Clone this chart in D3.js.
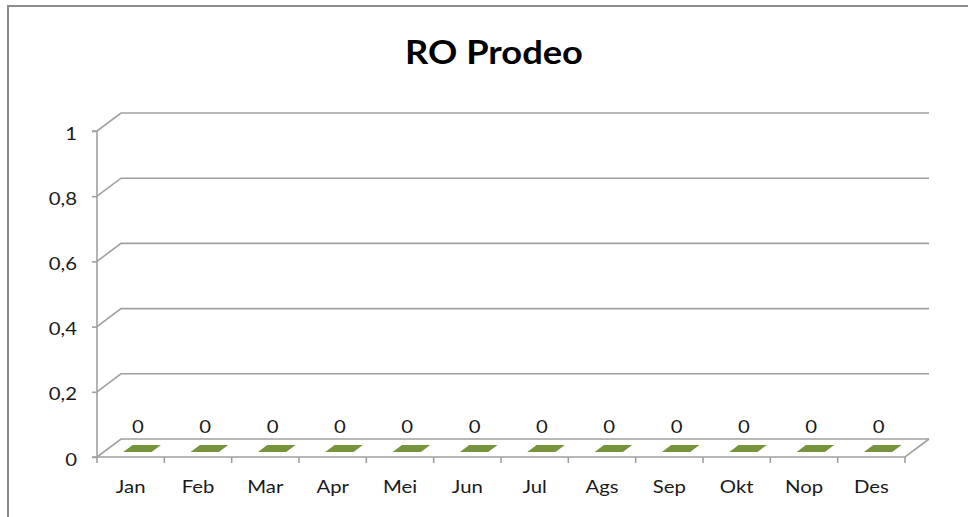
<!DOCTYPE html>
<html><head><meta charset="utf-8">
<script src="https://cdn.jsdelivr.net/npm/d3@7"></script>
<style>html,body{margin:0;padding:0;background:#fff;}svg{display:block;}</style>
</head><body>
<script>
const categories = ["Jan","Feb","Mar","Apr","Mei","Jun","Jul","Ags","Sep","Okt","Nop","Des"];
const values = [0,0,0,0,0,0,0,0,0,0,0,0];
const yTicks = [0,0.2,0.4,0.6,0.8,1];
const title = "RO Prodeo";

const W = 968, H = 517;
const font = "Lato, 'Open Sans', sans-serif";
const SX = 1.13; // horizontal text stretch seen in the reference
const svg = d3.select("body").append("svg").attr("width", W).attr("height", H);

function stretch(sel, s) {
  sel.each(function() {
    const t = d3.select(this);
    const tx = +t.attr("x") || 0, ty = +t.attr("y") || 0;
    t.attr("x", 0).attr("y", 0).attr("transform", `translate(${tx},${ty}) scale(${s},1)`);
  });
}

// frame
svg.append("path").attr("d", `M8,${H} L8,6 L${W},6`).attr("fill","none").attr("stroke","#8c8c8c").attr("stroke-width",2);

const x = d3.scaleBand().domain(categories).range([97, 905]).padding(0);
const y = d3.scaleLinear().domain([0,1]).range([457, 131]);
const DX = 24, DY = -18;
const grid = "#a0a0a0";
const loc = d3.formatLocale({decimal:",", thousands:".", grouping:[3], currency:["",""]});
const fmt = loc.format("~g");

// gridlines with 3D diagonal
yTicks.forEach(t => {
  const yy = y(t);
  svg.append("path")
    .attr("d", `M${x.range()[0]},${yy} L${x.range()[0]+DX},${yy+DY} L${x.range()[1]+DX},${yy+DY}`)
    .attr("fill","none").attr("stroke", grid).attr("stroke-width",1.6);
});
// floor front edge and right edge
svg.append("path")
  .attr("d", `M${x.range()[0]},${y(0)} L${x.range()[1]},${y(0)} L${x.range()[1]+DX},${y(0)+DY}`)
  .attr("fill","none").attr("stroke", grid).attr("stroke-width",1.6);

// y axis
const yAxis = d3.axisLeft(y).tickValues(yTicks).tickSize(5).tickPadding(15).tickFormat(fmt);
const ga = svg.append("g").attr("transform", `translate(${x.range()[0]},0)`).call(yAxis);
ga.select(".domain").attr("stroke", grid).attr("stroke-width",1.6).attr("d", `M-5,${y(1)}H0V${y(0)}H-5`);
ga.selectAll(".tick line").attr("stroke", grid).attr("stroke-width",1.6);
ga.selectAll(".tick text").attr("font-family", font).attr("font-size",18).attr("fill","#1a1a1a").attr("dy","0.45em")
  .attr("y", 0).attr("x", -20).call(stretch, SX);

// x axis
const xAxis = d3.axisBottom(x).tickSize(0).tickPadding(23);
const gx = svg.append("g").attr("transform", `translate(0,${y(0)})`).call(xAxis);
gx.select(".domain").remove();
gx.selectAll(".tick text").attr("font-family", font).attr("font-size",18).attr("fill","#1a1a1a").call(stretch, SX);
// category dividers
const edges = categories.map(c => x(c)).concat([x.range()[1]]);
svg.selectAll("line.ct").data(edges).enter().append("line")
  .attr("x1", d=>d).attr("x2", d=>d).attr("y1", y(0)).attr("y2", y(0)+6)
  .attr("stroke", grid).attr("stroke-width",1.6);

// bars (flat 3D bars at value 0)
const bw = x.bandwidth()*0.42, d0 = 0.28, d1 = 0.67;
svg.selectAll("path.bar").data(values).enter().append("path")
  .attr("fill","#77933c")
  .attr("d", (v,i) => {
    const cx = x(categories[i]) + x.bandwidth()/2;
    const yb = y(0) - (y(0) - y(v));
    const p = (xx, dd) => [xx + dd*DX, yb + dd*DY];
    const a = p(cx-bw/2, d0), b = p(cx+bw/2, d0), c = p(cx+bw/2, d1), e = p(cx-bw/2, d1);
    return `M${a}L${b}L${c}L${e}Z`;
  });

// value labels
svg.selectAll("text.val").data(values).enter().append("text")
  .attr("x", (v,i) => x(categories[i]) + x.bandwidth()/2 + 0.3*DX)
  .attr("y", v => y(v) - 24)
  .attr("text-anchor","middle").attr("font-family", font).attr("font-size",18).attr("fill","#1a1a1a")
  .text(v => fmt(v)).call(stretch, SX);

// title
svg.append("text").attr("x", 494).attr("y", 64).attr("text-anchor","middle")
  .attr("font-family", font).attr("font-weight","bold").attr("font-size",33).attr("fill","#000")
  .text(title).call(stretch, 1.1);
</script>
</body></html>
